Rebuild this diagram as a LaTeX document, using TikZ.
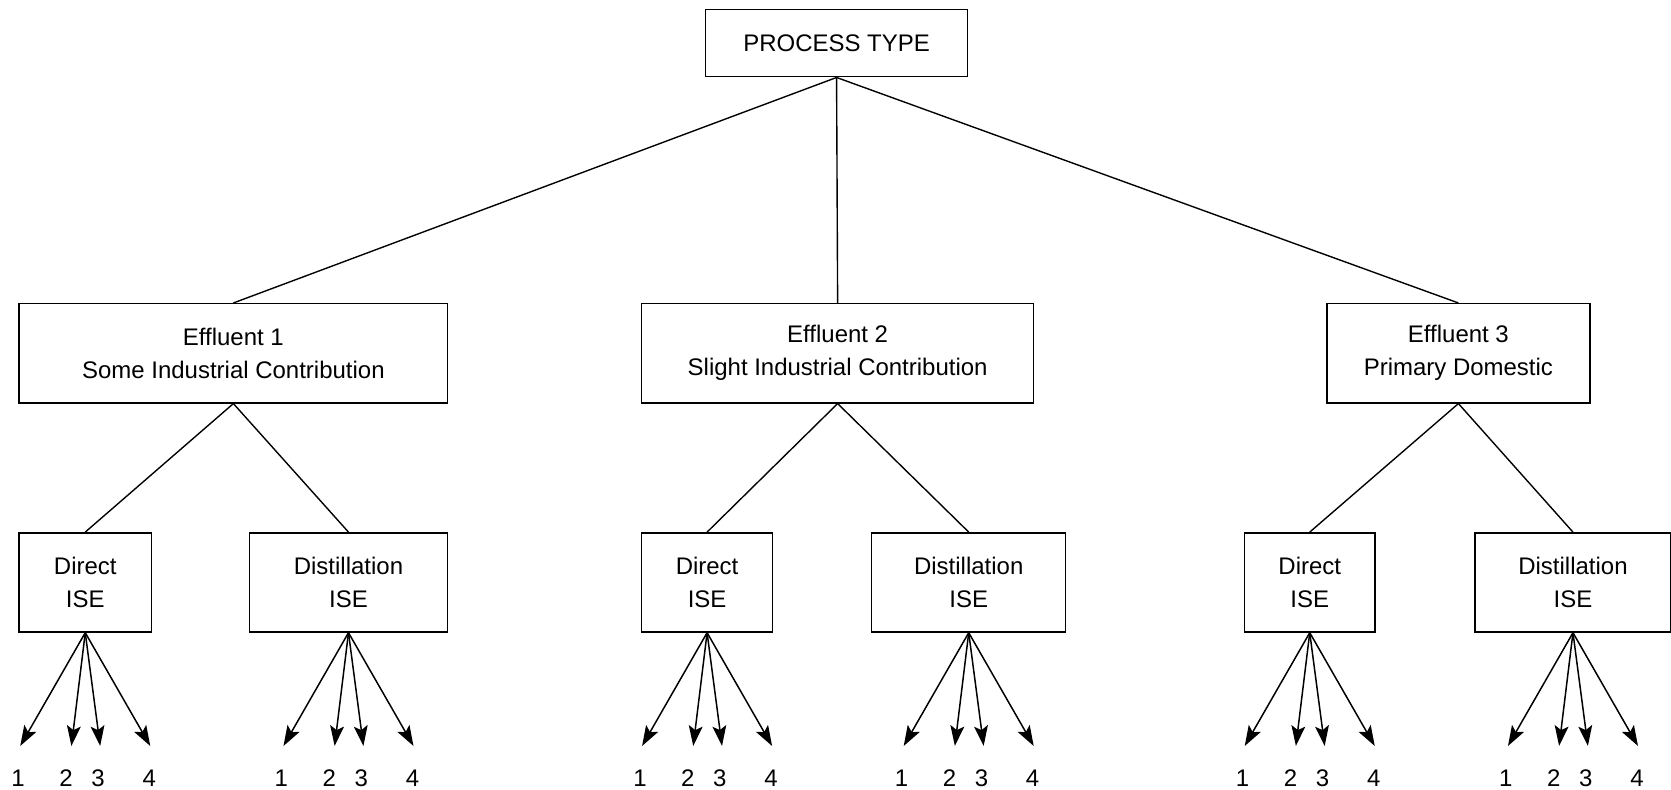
\documentclass[tikz,border=0pt]{standalone}
\usepackage{fontspec}
\setmainfont{Liberation Sans}
\usetikzlibrary{arrows.meta}
\begin{document}
\begin{tikzpicture}[x=1pt,y=-1pt,
 box/.style={draw, line width=1.4pt, inner sep=0pt, align=center, font=\fontsize{22.5}{31}\selectfont, minimum height=93pt},
 link/.style={line width=1.3pt},
 outarrow/.style={line width=1.4pt, -{Stealth[length=19pt,width=13pt,inset=4pt]}},
 num/.style={font=\fontsize{22.5}{25}\selectfont, inner sep=0pt}]
\useasboundingbox (0,0) rectangle (1568,741);
\node[box, minimum width=246pt, minimum height=63pt] (pt) at (785,40.5) {PROCESS TYPE};
\node[box, minimum width=402pt] (e1) at (219,331.5) {Effluent 1\\Some Industrial Contribution};
\node[box, minimum width=368pt] (e2) at (786,331.5) {Effluent 2\\Slight Industrial Contribution};
\node[box, minimum width=247pt] (e3) at (1368.5,331.5) {Effluent 3\\Primary Domestic};
\node[box, minimum width=124pt] (d1) at (80,546.5) {Direct\\ISE};
\node[box, minimum width=186pt] (s1) at (327,546.5) {Distillation\\ISE};
\node[box, minimum width=123pt] (d2) at (663.5,546.5) {Direct\\ISE};
\node[box, minimum width=182pt] (s2) at (909,546.5) {Distillation\\ISE};
\node[box, minimum width=122pt] (d3) at (1229,546.5) {Direct\\ISE};
\node[box, minimum width=184pt] (s3) at (1476,546.5) {Distillation\\ISE};
\draw[link] (pt.south) -- (e1.north);
\draw[link] (pt.south) -- (e2.north);
\draw[link] (pt.south) -- (e3.north);
\draw[link] (e1.south) -- (d1.north);
\draw[link] (e1.south) -- (s1.north);
\draw[link] (e2.south) -- (d2.north);
\draw[link] (e2.south) -- (s2.north);
\draw[link] (e3.south) -- (d3.north);
\draw[link] (e3.south) -- (s3.north);
\foreach \b/\x in {d1/80, s1/327, d2/663.5, s2/909, d3/1229, s3/1476} {
  \foreach \k/\dx/\lx in {1/-61/-63, 2/-13/-18, 3/14/12, 4/61/60} {
    \coordinate (\b-e\k) at (\x+\dx,700);
    \draw[outarrow] (\b.south) -- (\b-e\k);
    \node[num] (\b-n\k) at (\x+\lx,730) {\k};
  }
}
\end{tikzpicture}
\end{document}
